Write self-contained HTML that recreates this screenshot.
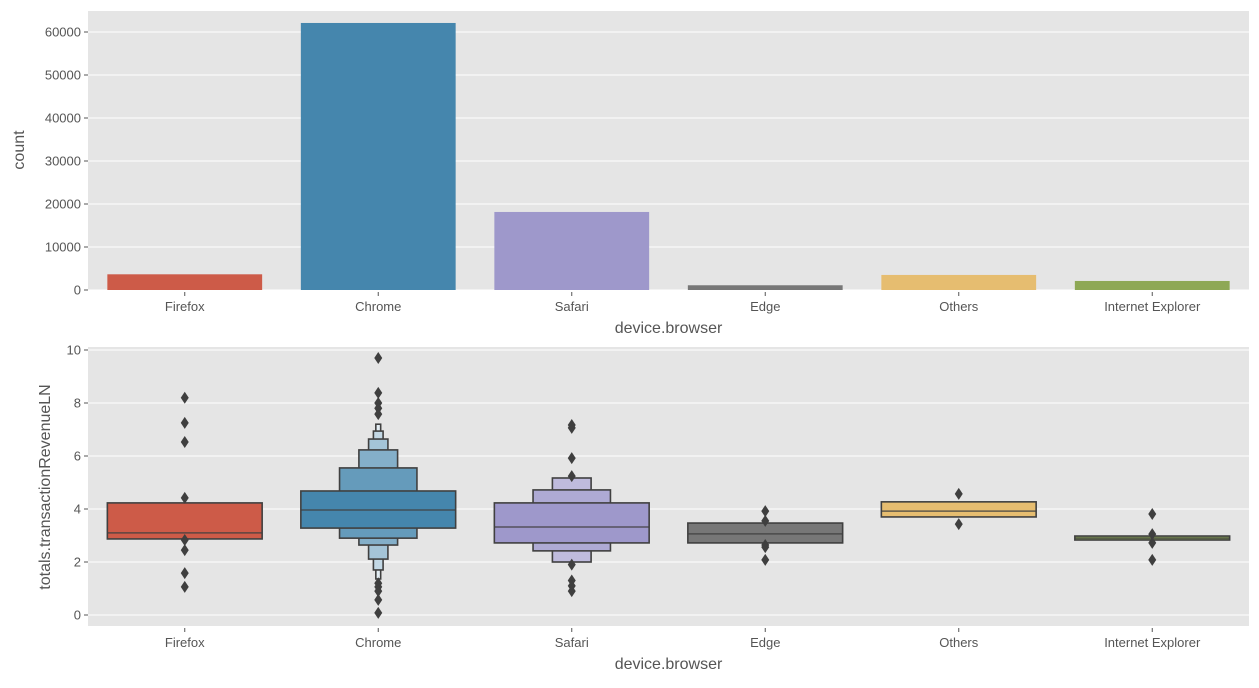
<!DOCTYPE html>
<html><head><meta charset="utf-8"><style>
body{margin:0;background:#fff;width:1259px;height:683px;overflow:hidden}
text{font-family:"Liberation Sans","DejaVu Sans",sans-serif;fill:#555}
</style></head><body>
<svg id="c" width="1259" height="683"></svg>
<script>
const categories=["Firefox","Chrome","Safari","Edge","Others","Internet Explorer"];
const counts=[3650,62100,18150,1100,3500,2100];
const countTicks=[0,10000,20000,30000,40000,50000,60000];
const revTicks=[0,2,4,6,8,10];
const colors=["#cd5b48","#4586ad","#9e98cb","#777777","#e6bd70","#8ea855"];
// boxen levels: [lower, upper] per depth; level 0 is the box
const levels=[
 [[2.87,4.23]],
 [[3.28,4.68],[2.9,5.55],[2.64,6.23],[2.11,6.64],[1.7,6.94],[1.36,7.2]],
 [[2.72,4.23],[2.42,4.72],[2.0,5.17]],
 [[2.72,3.47]],
 [[3.7,4.27]],
 [[2.83,2.98]]
];
const medians=[3.1,3.96,3.32,3.06,3.92,2.9];
const outliers=[
 [8.2,7.25,6.53,4.42,2.83,2.45,1.58,1.06],
 [9.7,8.38,8.0,7.8,7.58,1.2,1.06,0.9,0.57,0.08],
 [7.17,7.06,5.92,5.24,1.9,1.3,1.1,0.9],
 [3.92,3.55,2.64,2.56,2.08],
 [4.57,3.43],
 [3.81,3.05,2.72,2.08]
];
const svg=document.getElementById('c');const NS="http://www.w3.org/2000/svg";
function mk(t,a,p){const e=document.createElementNS(NS,t);for(const k in a)e.setAttribute(k,a[k]);(p||svg).appendChild(e);return e;}
const X0=88,X1=1249,step=(X1-X0)/categories.length;
const xc=i=>X0+step*(i+0.5);
const y1=v=>290-v*(258/60000);
const y2=v=>615-v*26.5;
function lighten(hex,f){const n=parseInt(hex.slice(1),16);let r=n>>16,g=(n>>8)&255,b=n&255;r=Math.round(r+(255-r)*f);g=Math.round(g+(255-g)*f);b=Math.round(b+(255-b)*f);return `rgb(${r},${g},${b})`;}
function axes(top,bot,ticks,yf,fmt,name){
 const bg=mk('rect',{x:X0,y:top,width:X1-X0,height:bot-top,fill:'#e5e5e5'});
 
 
 ticks.forEach(t=>{const y=yf(t);
  const g=mk('line',{x1:X0,x2:X1,y1:y,y2:y,stroke:'#fff','stroke-width':1});
  
  
  mk('line',{x1:X0-4,x2:X0,y1:y,y2:y,stroke:'#555'});
  const tx=mk('text',{x:X0-7,y:y+4.5,'text-anchor':'end','font-size':13});tx.textContent=fmt(t);
  
  
 });
 categories.forEach((c,i)=>{
  mk('line',{x1:xc(i),x2:xc(i),y1:bot+2,y2:bot+6,stroke:'#555'});
  const tx=mk('text',{x:xc(i),y:bot+21,'text-anchor':'middle','font-size':13});tx.textContent=c;
  
  
 });
 const xl=mk('text',{x:(X0+X1)/2,y:bot+43,'text-anchor':'middle','font-size':16});xl.textContent='device.browser';
 
 
}
axes(11,290,countTicks,y1,String,'count');
const yl1=mk('text',{x:0,y:0,'text-anchor':'middle','font-size':16,transform:'translate(24,150) rotate(-90)'});yl1.textContent='count';


const bw=step*0.8;
counts.forEach((v,i)=>{
 const r=mk('rect',{x:xc(i)-bw/2,y:y1(v),width:bw,height:y1(0)-y1(v),fill:colors[i]});
 
 
});
axes(347,626,revTicks,y2,String,'revenue');
const yl2=mk('text',{x:0,y:0,'text-anchor':'middle','font-size':16,transform:'translate(50,487) rotate(-90)'});yl2.textContent='totals.transactionRevenueLN';


levels.forEach((lv,i)=>{
 for(let k=lv.length-1;k>=0;k--){
  const [lo,hi]=lv[k];const w=bw*Math.pow(0.5,k);
  const r=mk('rect',{x:xc(i)-w/2,y:y2(hi),width:w,height:y2(lo)-y2(hi),fill:lighten(colors[i],k*0.17),stroke:'#404040','stroke-width':1.6});
  
  
 }
 const m=mk('line',{x1:xc(i)-bw/2,x2:xc(i)+bw/2,y1:y2(medians[i]),y2:y2(medians[i]),stroke:'#404040','stroke-width':1.5,'stroke-opacity':0.8});
 
 
 outliers[i].forEach(v=>{const x=xc(i),y=y2(v);
  const d=mk('path',{d:`M${x},${y-6}L${x+4},${y}L${x},${y+6}L${x-4},${y}Z`,fill:'#3f3f3f'});
  
  
 });
});
</script>
</body></html>
